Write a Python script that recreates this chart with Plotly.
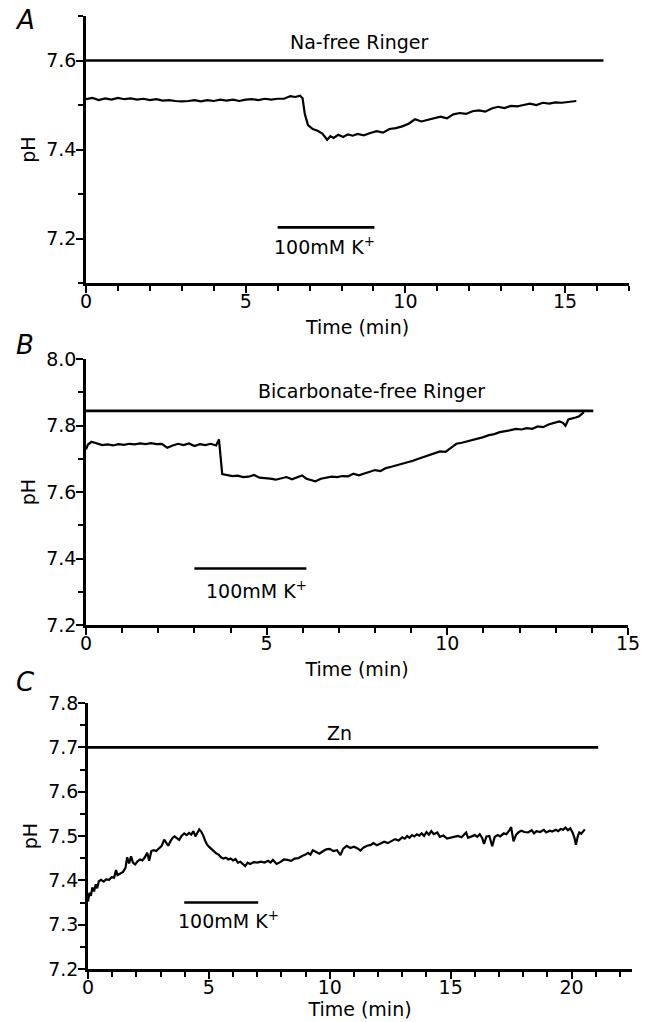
import plotly.graph_objects as go

# ---------------- Data ----------------
# Panel A: Na-free Ringer
a_time = [0.0, 0.2, 0.4, 0.6, 0.8, 1.0, 1.2, 1.4, 1.6, 1.8, 2.0, 2.2, 2.4, 2.6, 2.8, 3.0, 3.2, 3.4,
          3.6, 3.8, 4.0, 4.2, 4.4, 4.6, 4.8, 5.0, 5.2, 5.4, 5.6, 5.8, 6.0, 6.2, 6.4, 6.55, 6.7, 6.78,
          6.85, 6.95, 7.1, 7.25, 7.4, 7.5, 7.55, 7.65, 7.75, 7.9, 8.05, 8.2, 8.35, 8.5, 8.7, 8.9,
          9.1, 9.3, 9.5, 9.7, 9.9, 10.1, 10.3, 10.5, 10.7, 10.9, 11.1, 11.3, 11.5, 11.7, 11.9, 12.1,
          12.3, 12.5, 12.7, 12.9, 13.1, 13.3, 13.5, 13.7, 13.9, 14.1, 14.3, 14.5, 14.7, 14.9, 15.1, 15.35]
a_ph = [7.513, 7.516, 7.511, 7.515, 7.512, 7.516, 7.513, 7.515, 7.512, 7.514, 7.511, 7.513, 7.510,
        7.511, 7.509, 7.508, 7.509, 7.511, 7.508, 7.511, 7.509, 7.512, 7.510, 7.512, 7.509, 7.512,
        7.513, 7.511, 7.514, 7.512, 7.514, 7.514, 7.520, 7.518, 7.521, 7.515, 7.480, 7.455, 7.446,
        7.442, 7.436, 7.428, 7.422, 7.430, 7.426, 7.433, 7.428, 7.434, 7.431, 7.435, 7.432, 7.437,
        7.441, 7.438, 7.446, 7.448, 7.452, 7.458, 7.468, 7.463, 7.467, 7.471, 7.474, 7.470, 7.479,
        7.482, 7.480, 7.486, 7.488, 7.485, 7.492, 7.496, 7.493, 7.498, 7.497, 7.500, 7.503, 7.500,
        7.505, 7.503, 7.506, 7.505, 7.507, 7.509]
a_sol_time = [0.0, 16.2]
a_sol_ph = [7.6, 7.6]
a_k_time = [6.0, 9.03]
a_k_ph = [7.225, 7.225]

# Panel B: Bicarbonate-free Ringer
b_time = [0.0, 0.05, 0.15, 0.3, 0.45, 0.6, 0.75, 0.9, 1.05, 1.2, 1.35, 1.5, 1.65, 1.8, 1.95, 2.1,
          2.25, 2.4, 2.55, 2.7, 2.85, 3.0, 3.15, 3.3, 3.45, 3.6, 3.68, 3.77, 3.9, 4.05, 4.2, 4.35,
          4.5, 4.65, 4.8, 4.95, 5.1, 5.25, 5.4, 5.55, 5.7, 5.85, 5.98, 6.1, 6.25, 6.35, 6.5, 6.65,
          6.8, 6.95, 7.1, 7.25, 7.4, 7.55, 7.7, 7.85, 8.0, 8.15, 8.3, 8.45, 8.6, 8.75, 8.9, 9.05,
          9.2, 9.35, 9.5, 9.65, 9.8, 9.95, 10.1, 10.25, 10.4, 10.55, 10.7, 10.85, 11.0, 11.15,
          11.3, 11.45, 11.6, 11.75, 11.9, 12.05, 12.2, 12.35, 12.5, 12.65, 12.8, 12.95, 13.1,
          13.2, 13.27, 13.35, 13.45, 13.55, 13.65, 13.78]
b_ph = [7.728, 7.742, 7.751, 7.745, 7.741, 7.743, 7.740, 7.744, 7.742, 7.745, 7.743, 7.746, 7.744,
        7.747, 7.744, 7.745, 7.733, 7.740, 7.745, 7.741, 7.746, 7.738, 7.744, 7.741, 7.745, 7.740,
        7.758, 7.654, 7.651, 7.648, 7.649, 7.645, 7.646, 7.651, 7.643, 7.642, 7.640, 7.637, 7.642,
        7.645, 7.638, 7.644, 7.650, 7.640, 7.636, 7.632, 7.640, 7.642, 7.646, 7.645, 7.648, 7.647,
        7.655, 7.650, 7.655, 7.660, 7.666, 7.663, 7.672, 7.676, 7.680, 7.685, 7.688, 7.694, 7.700,
        7.705, 7.712, 7.716, 7.722, 7.721, 7.732, 7.745, 7.748, 7.752, 7.757, 7.762, 7.765, 7.771,
        7.774, 7.780, 7.782, 7.786, 7.790, 7.788, 7.792, 7.790, 7.797, 7.795, 7.803, 7.808, 7.812,
        7.808, 7.799, 7.818, 7.820, 7.824, 7.828, 7.840]
b_sol_time = [0.0, 14.04]
b_sol_ph = [7.844, 7.844]
b_k_time = [3.0, 6.1]
b_k_ph = [7.37, 7.37]

# Panel C: Zn
c_time = [0.0, 0.06, 0.12, 0.18, 0.25, 0.32, 0.38, 0.45, 0.54, 0.65, 0.75, 0.87, 0.98, 1.08, 1.16,
          1.22, 1.32, 1.45, 1.55, 1.62, 1.7, 1.78, 1.86, 1.95, 2.05, 2.15, 2.25, 2.35, 2.45, 2.53,
          2.62, 2.72, 2.82, 2.94, 3.05, 3.15, 3.25, 3.32, 3.42, 3.5, 3.58, 3.68, 3.77, 3.87, 3.98,
          4.08, 4.18, 4.27, 4.36, 4.44, 4.52, 4.6, 4.68, 4.76, 4.84, 4.92, 5.0, 5.1, 5.2, 5.3, 5.4,
          5.5, 5.6, 5.7, 5.8, 5.9, 6.0, 6.1, 6.2, 6.3, 6.4, 6.5, 6.6, 6.7, 6.85, 7.0, 7.15, 7.3,
          7.45, 7.55, 7.65, 7.8, 7.95, 8.1, 8.25, 8.4, 8.55, 8.7, 8.85, 9.0, 9.1, 9.2, 9.3, 9.45,
          9.57, 9.7, 9.85, 10.0, 10.15, 10.3, 10.44, 10.55, 10.7, 10.85, 11.0, 11.15, 11.27, 11.4,
          11.55, 11.7, 11.8, 11.95, 12.1, 12.25, 12.4, 12.55, 12.7, 12.85, 13.0, 13.1, 13.2, 13.3,
          13.4, 13.5, 13.6, 13.7, 13.8, 13.9, 14.0, 14.1, 14.2, 14.3, 14.45, 14.55, 14.7, 14.85,
          15.0, 15.15, 15.3, 15.45, 15.55, 15.64, 15.72, 15.85, 16.0, 16.1, 16.2, 16.3, 16.38,
          16.48, 16.6, 16.72, 16.82, 16.95, 17.05, 17.2, 17.3, 17.42, 17.5, 17.6, 17.7, 17.8,
          17.92, 18.05, 18.2, 18.35, 18.45, 18.55, 18.7, 18.85, 18.95, 19.1, 19.2, 19.35, 19.45,
          19.55, 19.65, 19.75, 19.85, 19.95, 20.05, 20.12, 20.18, 20.26, 20.32, 20.4, 20.48, 20.55]
c_ph = [7.352, 7.372, 7.365, 7.384, 7.375, 7.391, 7.382, 7.398, 7.401, 7.397, 7.402, 7.401, 7.407,
        7.406, 7.423, 7.412, 7.415, 7.419, 7.428, 7.452, 7.438, 7.454, 7.440, 7.436, 7.443, 7.447,
        7.445, 7.452, 7.462, 7.444, 7.466, 7.468, 7.466, 7.472, 7.478, 7.492, 7.484, 7.478, 7.489,
        7.496, 7.499, 7.494, 7.491, 7.500, 7.506, 7.502, 7.507, 7.503, 7.511, 7.499, 7.509, 7.515,
        7.510, 7.502, 7.490, 7.481, 7.476, 7.472, 7.466, 7.461, 7.458, 7.452, 7.449, 7.451, 7.447,
        7.449, 7.445, 7.448, 7.440, 7.442, 7.436, 7.432, 7.440, 7.437, 7.441, 7.440, 7.442, 7.440,
        7.444, 7.440, 7.446, 7.437, 7.441, 7.447, 7.446, 7.444, 7.449, 7.450, 7.455, 7.458, 7.462,
        7.458, 7.468, 7.464, 7.460, 7.465, 7.470, 7.471, 7.466, 7.468, 7.457, 7.471, 7.478, 7.473,
        7.476, 7.472, 7.467, 7.474, 7.478, 7.480, 7.484, 7.479, 7.483, 7.487, 7.484, 7.488, 7.493,
        7.490, 7.497, 7.494, 7.500, 7.496, 7.502, 7.499, 7.504, 7.501, 7.506, 7.500, 7.509, 7.503,
        7.511, 7.504, 7.508, 7.498, 7.501, 7.494, 7.496, 7.499, 7.500, 7.497, 7.502, 7.508, 7.496,
        7.499, 7.502, 7.498, 7.504, 7.496, 7.482, 7.499, 7.500, 7.477, 7.498, 7.502, 7.499, 7.506,
        7.504, 7.512, 7.520, 7.488, 7.502, 7.508, 7.512, 7.509, 7.508, 7.513, 7.506, 7.511, 7.509,
        7.514, 7.508, 7.512, 7.510, 7.514, 7.511, 7.516, 7.514, 7.519, 7.513, 7.517, 7.507, 7.496,
        7.480, 7.500, 7.508, 7.505, 7.511, 7.515]
c_sol_time = [0.0, 21.1]
c_sol_ph = [7.7, 7.7]
c_k_time = [3.98, 7.04]
c_k_ph = [7.35, 7.35]

solution_labels = ["Na-free Ringer", "Bicarbonate-free Ringer", "Zn"]
k_label = "100mM K<sup>+</sup>"
panel_letters = ["A", "B", "C"]

# ---------------- Figure ----------------
FONT = "DejaVu Sans"
FS = 19
W, H = 649, 1022

fig = go.Figure()

panels = [
    (a_time, a_ph, a_sol_time, a_sol_ph, a_k_time, a_k_ph, "x", "y"),
    (b_time, b_ph, b_sol_time, b_sol_ph, b_k_time, b_k_ph, "x2", "y2"),
    (c_time, c_ph, c_sol_time, c_sol_ph, c_k_time, c_k_ph, "x3", "y3"),
]
for t, ph, st, sp, kt, kp, xa, ya in panels:
    fig.add_trace(go.Scatter(x=t, y=ph, mode="lines", line=dict(color="black", width=2.2),
                             xaxis=xa, yaxis=ya, showlegend=False))
    fig.add_trace(go.Scatter(x=st, y=sp, mode="lines", line=dict(color="black", width=2.6),
                             xaxis=xa, yaxis=ya, showlegend=False))
    fig.add_trace(go.Scatter(x=kt, y=kp, mode="lines", line=dict(color="black", width=2.6),
                             xaxis=xa, yaxis=ya, showlegend=False))


def xax(domain, rng, anchor, standoff):
    return dict(domain=domain, range=rng, anchor=anchor, showline=True, linecolor="black",
                linewidth=2.5, ticks="outside", ticklen=7, tickwidth=2, tickcolor="black",
                tick0=0, dtick=5, showgrid=False, zeroline=False, automargin=False,
                ticklabelstandoff=-8,
                tickfont=dict(family=FONT, size=FS, color="black"),
                minor=dict(dtick=1, ticks="outside", ticklen=5, tickwidth=2, tickcolor="black",
                           showgrid=False),
                title=dict(text="Time (min)", font=dict(family=FONT, size=FS, color="black"),
                           standoff=standoff))


def yax(domain, rng, anchor, dtick, minor_dtick, tick0):
    return dict(domain=domain, range=rng, anchor=anchor, showline=True, linecolor="black",
                linewidth=2.5, ticks="outside", ticklen=7, tickwidth=2, tickcolor="black",
                tick0=tick0, dtick=dtick, tickformat=".1f", showgrid=False, zeroline=False,
                automargin=False, ticklabelstandoff=-4,
                tickfont=dict(family=FONT, size=FS, color="black"),
                minor=dict(dtick=minor_dtick, ticks="outside", ticklen=5, tickwidth=2,
                           tickcolor="black", showgrid=False),
                title=dict(text="pH", font=dict(family=FONT, size=FS, color="black"),
                           standoff=6))


def px_x(p):
    return p / W


def px_y(p):
    return 1 - p / H


fig.update_layout(
    width=W, height=H,
    margin=dict(l=0, r=0, t=0, b=0),
    paper_bgcolor="white", plot_bgcolor="white",
    font=dict(family=FONT, size=FS, color="black"),
    xaxis=xax([px_x(86), px_x(629)], [0, 17], "y", 11),
    yaxis=yax([px_y(283), px_y(16)], [7.1, 7.7], "x", 0.2, 0.1, 7.2),
    xaxis2=xax([px_x(86), px_x(628)], [0, 15], "y2", 11),
    yaxis2=yax([px_y(625), px_y(359)], [7.2, 8.0], "x2", 0.2, 0.1, 7.2),
    xaxis3=xax([px_x(88), px_x(632)], [0, 22.5], "y3", 7),
    yaxis3=yax([px_y(969), px_y(703)], [7.2, 7.8], "x3", 0.1, 0.05, 7.2),
)

tf = dict(family=FONT, size=FS, color="black")
annos = [
    # solution labels
    dict(x=8.54, y=7.641, xref="x", yref="y", text=solution_labels[0]),
    dict(x=7.89, y=7.904, xref="x2", yref="y2", text=solution_labels[1]),
    dict(x=10.4, y=7.732, xref="x3", yref="y3", text=solution_labels[2]),
    # K+ labels
    dict(x=7.46, y=7.184, xref="x", yref="y", text=k_label),
    dict(x=4.71, y=7.305, xref="x2", yref="y2", text=k_label),
    dict(x=5.8, y=7.310, xref="x3", yref="y3", text=k_label),
]
for a in annos:
    fig.add_annotation(**a, showarrow=False, font=tf, xanchor="center", yanchor="middle")

for letter, ypx in zip(panel_letters, [20, 345, 682]):
    fig.add_annotation(x=px_x(25), y=px_y(ypx), xref="paper", yref="paper",
                       text="<i>" + letter + "</i>", showarrow=False,
                       font=dict(family=FONT, size=26, color="black"),
                       xanchor="center", yanchor="middle")

fig.write_html("out.html", config={"displayModeBar": False},
               post_script="document.body.style.margin='0px';")
